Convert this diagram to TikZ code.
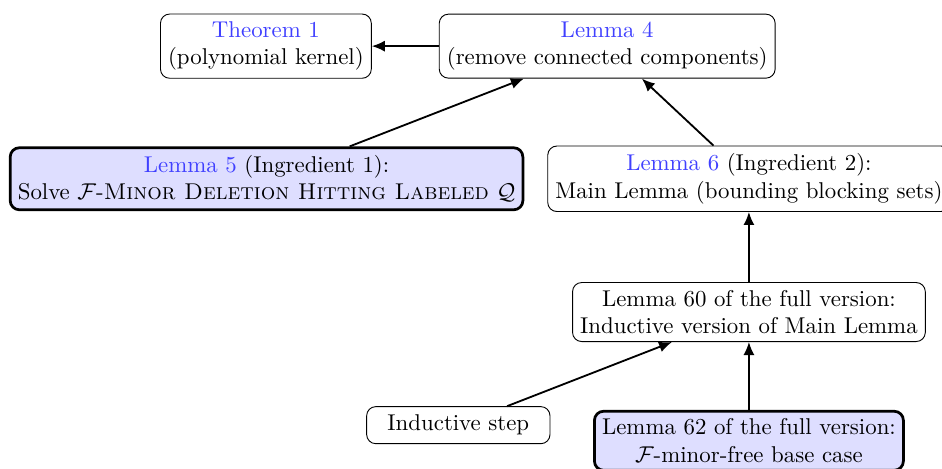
\documentclass[tikz,border=0pt]{standalone}
\usepackage{amsmath}
\usepackage{tikz}
\usepackage{xcolor}
\usetikzlibrary{arrows.meta}
\newcommand{\Fcal}{\mathcal{F}}
\newcommand{\Qcal}{\mathcal{Q}}
\newcommand{\refcol}[1]{\textcolor{blue!75}{#1}}

\begin{document}
\begin{tikzpicture}[thick,scale=1,
  lem/.style={draw,thin,rounded corners,align=center,fill=white},
  ingr/.style={lem,very thick,fill=blue!13},
  imp/.style={-{Latex[length=2mm,width=1.7mm]}}]
\useasboundingbox (0,0) rectangle (14.49,-7.2);
% top row
\node[lem] (thm1) at (4.09,-0.71) {\refcol{Theorem 1}\\(polynomial kernel)};
\node[lem] (lem4) at (9.34,-0.71) {\refcol{Lemma 4}\\(remove connected components)};
% ingredients
\node[ingr] (lem5) at (4.10,-2.75) {\refcol{Lemma 5} (Ingredient 1):\\Solve $\Fcal$-\textsc{Minor Deletion Hitting Labeled} $\Qcal$};
\node[lem] (lem6) at (11.52,-2.75) {\refcol{Lemma 6} (Ingredient 2):\\Main Lemma (bounding blocking sets)};
% full version
\node[lem] (lem60) at (11.52,-4.80) {Lemma 60 of the full version:\\Inductive version of Main Lemma};
\node[lem,minimum width=2.82cm,minimum height=0.57cm] (indstep) at (7.05,-6.54) {Inductive step};
\node[ingr] (lem62) at (11.52,-6.78) {Lemma 62 of the full version:\\$\Fcal$-minor-free base case};
\draw[imp] (lem4) -- (thm1);
\draw[imp] (lem5) -- (lem4);
\draw[imp] (lem6) -- (lem4);
\draw[imp] (lem60) -- (lem6);
\draw[imp] (indstep) -- (lem60);
\draw[imp] (lem62) -- (lem60);
\end{tikzpicture}
\end{document}
